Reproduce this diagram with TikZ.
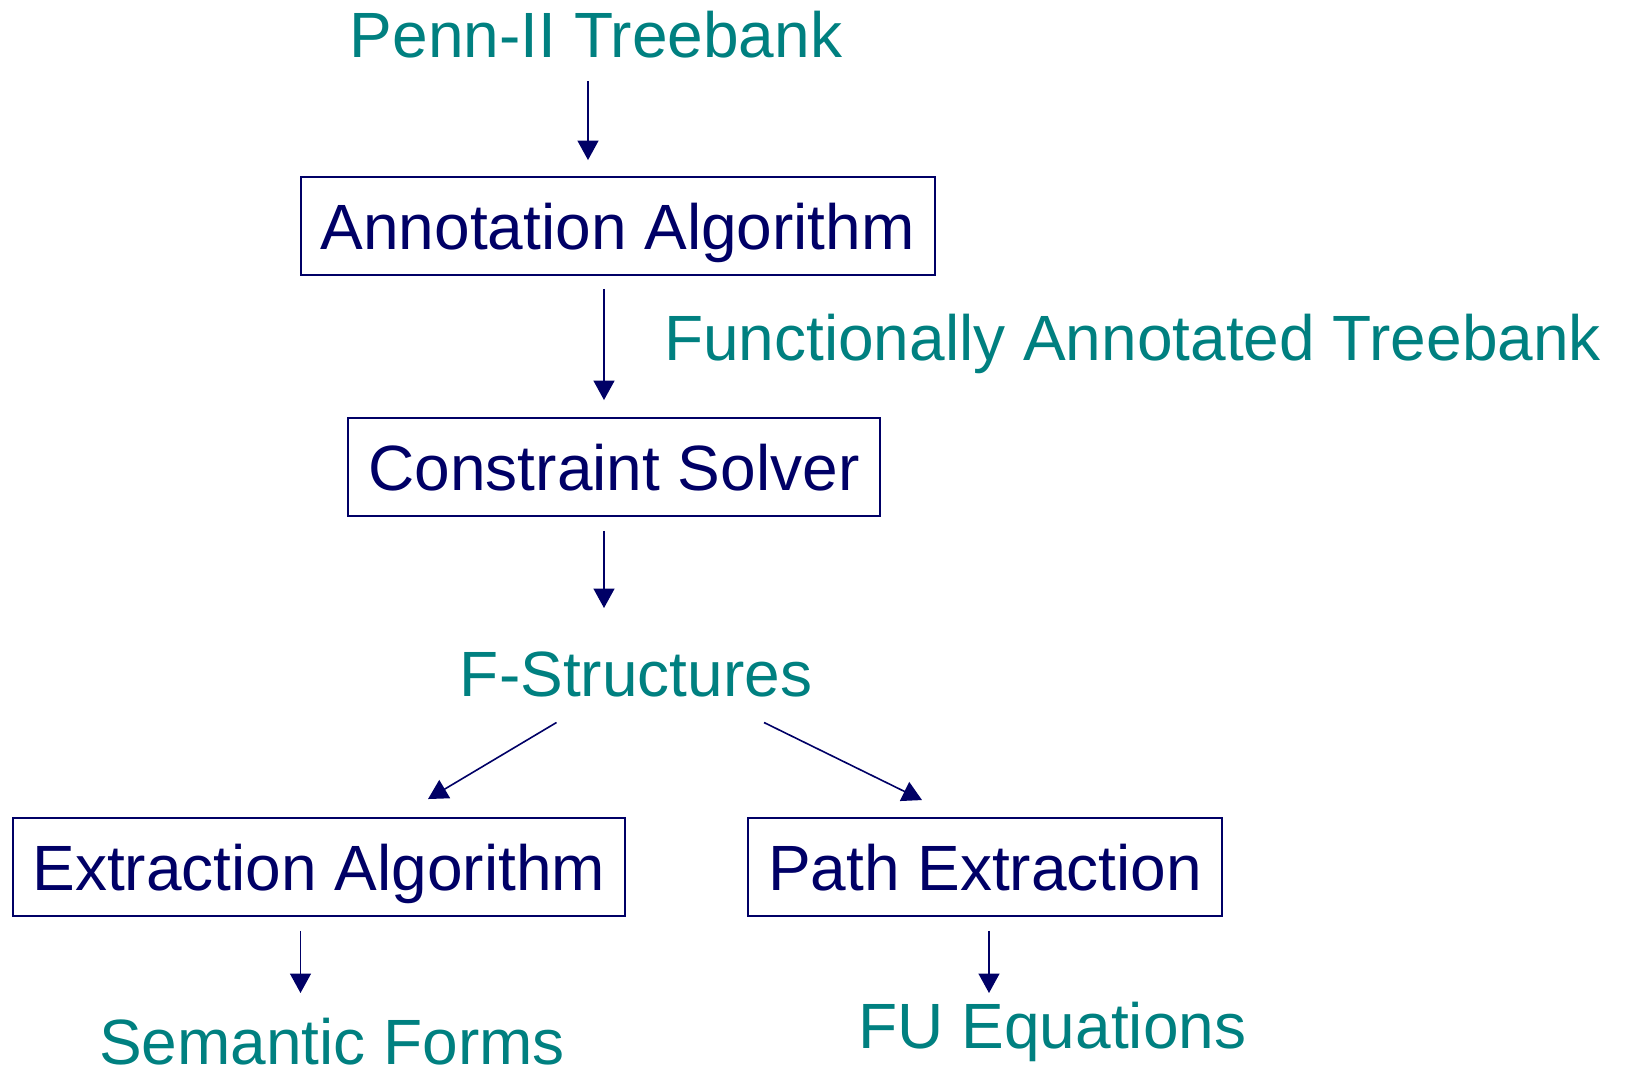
\documentclass[tikz,border=0pt]{standalone}
\usepackage{fontspec}
\setmainfont{Liberation Sans}
\usetikzlibrary{arrows.meta,calc}
\definecolor{dataclr}{RGB}{0,128,128}
\definecolor{procclr}{RGB}{0,0,102}
\begin{document}
\begin{tikzpicture}[x=1pt,y=-1pt,
  every node/.style={font=\fontsize{64}{70}\selectfont, inner sep=0pt},
  datatext/.style={text=dataclr, anchor=base},
  procbox/.style={draw=procclr, line width=1.9pt, text=procclr, anchor=base,
    text height=73pt, text depth=25pt},
  arr/.style={draw=procclr, line width=1.6pt, -{Triangle[length=19.5pt,width=21pt]}}]
\useasboundingbox (0,0) rectangle (1625,1067);

% data items
\node[datatext] (penn) at (596,57.3) {Penn-II Treebank};
\node[datatext] (fat) at (1132.5,360.5) {Functionally Annotated Treebank};
\node[datatext] (fs) at (636,696.5) {F-Structures};
\node[datatext] (sf) at (332,1064.5) {Semantic Forms};
\node[datatext] (fu) at (1052.5,1048) {FU Equations};

% processing steps
\node[procbox, minimum width=634pt] (ann) at (617.75,250) {Annotation Algorithm};
\node[procbox, minimum width=532pt] (cs) at (614,490.7) {Constraint Solver};
\node[procbox, minimum width=612pt] (ea) at (318.7,890.7) {Extraction Algorithm};
\node[procbox, minimum width=474pt] (pe) at (985,890.7) {Path Extraction};

% flow
\draw[arr] ($(penn.base)+(-8,23.7)$) -- ($(ann.north)+(-29.75,-16)$);
\draw[arr] ($(ann.south)+(-13.75,13)$) -- ($(cs.north)+(-10,-16.7)$);
\draw[arr] ($(cs.south)+(-10,14.3)$) -- ($(fs.base)+(-32,-88.5)$);
\draw[arr] ($(fs.base)+(-79.5,26)$) -- ($(ea.north)+(109.3,-17.7)$);
\draw[arr] ($(fs.base)+(128,26)$) -- ($(pe.north)+(-63,-16.7)$);
\draw[arr] ($(ea.south)+(-18.2,14.3)$) -- ($(sf.base)+(-31.5,-71.5)$);
\draw[arr] ($(pe.south)+(4,14.3)$) -- ($(fu.base)+(-63.5,-55)$);
\end{tikzpicture}
\end{document}
